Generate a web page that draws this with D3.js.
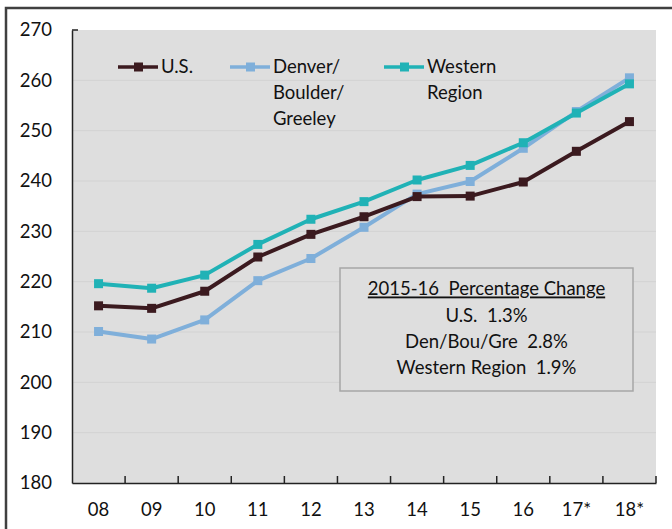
<!DOCTYPE html>
<html>
<head>
<meta charset="utf-8">
<script src="https://cdn.jsdelivr.net/npm/d3@7"></script>
<style>
  body { margin: 0; background: #fff; }
  svg text { font-family: Lato, "Open Sans", sans-serif; fill: #111; white-space: pre; }
</style>
</head>
<body>
<div id="chart"></div>
<script>
// Data
const years = ["08", "09", "10", "11", "12", "13", "14", "15", "16", "17*", "18*"];
const usValues = [215.2, 214.7, 218.1, 224.9, 229.4, 232.9, 236.9, 237.0, 239.8, 245.9, 251.8];
const denverValues = [210.1, 208.6, 212.4, 220.2, 224.6, 230.8, 237.4, 239.9, 246.5, 253.8, 260.5];
const westernValues = [219.6, 218.7, 221.3, 227.4, 232.4, 235.9, 240.2, 243.1, 247.6, 253.5, 259.3];
const yTicks = [180, 190, 200, 210, 220, 230, 240, 250, 260, 270];
const noteLines = ["U.S.  1.3%", "Den/Bou/Gre  2.8%", "Western Region  1.9%"];
const noteTitle = "2015-16  Percentage Change";

const series = [
  { name: ["U.S."], values: usValues, color: "#3b1a1f" },
  { name: ["Denver/", "Boulder/", "Greeley"], values: denverValues, color: "#7fafda" },
  { name: ["Western", "Region"], values: westernValues, color: "#20b2b6" }
];

const W = 672, H = 529;
const plot = { left: 72, right: 656, top: 30, bottom: 483 };
const fontSize = "18.5px";

const svg = d3.select("#chart").append("svg")
  .attr("width", W)
  .attr("height", H);

// outer frame
svg.append("rect")
  .attr("x", 6).attr("y", 8)
  .attr("width", W + 10).attr("height", H + 10)
  .attr("fill", "none")
  .attr("stroke", "#404040")
  .attr("stroke-width", 2.5);

const x = d3.scaleBand().domain(years).range([plot.left, plot.right]);
const y = d3.scaleLinear().domain([180, 270]).range([plot.bottom, plot.top]);

// plot background
svg.append("rect")
  .attr("x", plot.left).attr("y", plot.top)
  .attr("width", plot.right - plot.left).attr("height", plot.bottom - plot.top)
  .attr("fill", "#dedede");

// gridlines
svg.append("g")
  .selectAll("line")
  .data(yTicks.slice(1, -1))
  .join("line")
  .attr("x1", plot.left).attr("x2", plot.right)
  .attr("y1", d => y(d)).attr("y2", d => y(d))
  .attr("stroke", "#d2d2d2")
  .attr("stroke-width", 1);

// y axis
const yAxis = svg.append("g")
  .attr("transform", "translate(" + plot.left + ",0)")
  .call(d3.axisLeft(y).tickValues(yTicks).tickSize(0).tickPadding(20));
yAxis.select(".domain").attr("stroke", "#222").attr("stroke-width", 1.5);
yAxis.selectAll("text").style("font-size", fontSize).attr("fill", "#111");
svg.append("line")
  .attr("x1", plot.left).attr("x2", plot.left + 6)
  .attr("y1", plot.top).attr("y2", plot.top)
  .attr("stroke", "#222").attr("stroke-width", 1.5);

// x axis, ticks between categories, pointing inside
const xAxis = svg.append("g")
  .attr("transform", "translate(0," + plot.bottom + ")")
  .call(d3.axisBottom(x).tickSize(0).tickPadding(20));
xAxis.select(".domain").attr("stroke", "#222").attr("stroke-width", 1.5);
xAxis.selectAll("text").style("font-size", fontSize).attr("fill", "#111");
svg.append("g")
  .selectAll("line")
  .data(years.slice(1).concat(["end"]))
  .join("line")
  .attr("x1", (d, i) => i < years.length - 1 ? x(d) : plot.right)
  .attr("x2", (d, i) => i < years.length - 1 ? x(d) : plot.right)
  .attr("y1", plot.bottom).attr("y2", plot.bottom - 7)
  .attr("stroke", "#222").attr("stroke-width", 1.5);

const line = d3.line()
  .x((d, i) => x(years[i]) + x.bandwidth() / 2)
  .y(d => y(d));

// lines and markers: Denver first, then US, then Western on top
const drawOrder = [series[1], series[0], series[2]];
drawOrder.forEach(s => {
  svg.append("path")
    .datum(s.values)
    .attr("d", line)
    .attr("fill", "none")
    .attr("stroke", s.color)
    .attr("stroke-width", 4)
    .attr("stroke-linejoin", "round");
  svg.append("g")
    .selectAll("rect")
    .data(s.values)
    .join("rect")
    .attr("x", (d, i) => x(years[i]) + x.bandwidth() / 2 - 4.5)
    .attr("y", d => y(d) - 4.5)
    .attr("width", 9).attr("height", 9)
    .attr("fill", s.color);
});

// legend
const legendX = [118, 230, 384];
series.forEach((s, i) => {
  const g = svg.append("g").attr("transform", "translate(" + legendX[i] + ",67)");
  g.append("line")
    .attr("x1", 0).attr("x2", 40)
    .attr("stroke", s.color).attr("stroke-width", 3.5);
  g.append("rect")
    .attr("x", 16).attr("y", -4.5)
    .attr("width", 9).attr("height", 9)
    .attr("fill", s.color);
  g.selectAll("text")
    .data(s.name)
    .join("text")
    .attr("x", 43)
    .attr("y", (d, j) => j * 25.8)
    .attr("dy", "0.35em")
    .style("font-size", fontSize)
    .text(d => d);
});

// note box
const box = { x: 340, y: 268, w: 293, h: 123 };
svg.append("rect")
  .attr("x", box.x).attr("y", box.y)
  .attr("width", box.w).attr("height", box.h)
  .attr("fill", "#dedede")
  .attr("stroke", "#a6a6a6")
  .attr("stroke-width", 1.5);
const cx = box.x + box.w / 2;
svg.append("text")
  .attr("x", cx).attr("y", 289)
  .attr("dy", "0.35em")
  .attr("text-anchor", "middle")
  .style("font-size", fontSize)
  .style("text-decoration", "underline")
  .text(noteTitle);
svg.append("g")
  .selectAll("text")
  .data(noteLines)
  .join("text")
  .attr("x", cx)
  .attr("y", (d, i) => 316 + i * 26)
  .attr("dy", "0.35em")
  .attr("text-anchor", "middle")
  .style("font-size", fontSize)
  .text(d => d);
</script>
</body>
</html>
